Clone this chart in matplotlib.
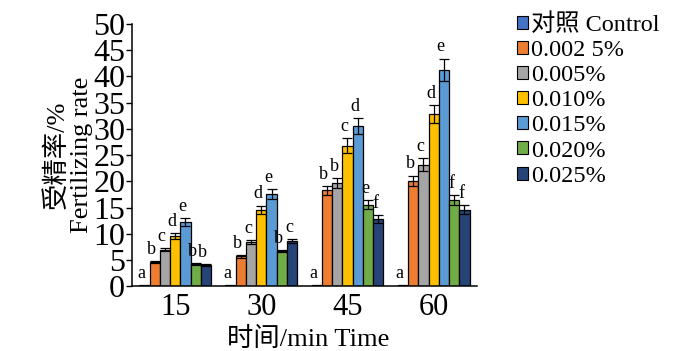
#!/usr/bin/env python3
# -*- coding: utf-8 -*-

import numpy as np
import matplotlib
matplotlib.use('Agg')
import matplotlib.pyplot as plt

plt.rcParams['font.family'] = ['Liberation Serif', 'Noto Sans CJK SC']

times = ['15', '30', '45', '60']
series = ['对照 Control', '0.002 5%', '0.005%', '0.010%', '0.015%', '0.020%', '0.025%']
colors = ['#4472C4', '#ED7D31', '#A5A5A5', '#FFC000', '#5B9BD5', '#70AD47', '#264478']

# fertilizing rate (%) per series, over the four times
control = [0.3, 0.3, 0.3, 0.3]
c0025 = [4.7, 5.7, 18.3, 20.1]
c005 = [7.0, 8.5, 19.7, 23.2]
c010 = [9.6, 14.6, 26.8, 32.9]
c015 = [12.3, 17.6, 30.6, 41.3]
c020 = [4.2, 6.7, 15.6, 16.5]
c025 = [4.0, 8.6, 12.8, 14.6]

err_control = [0.0, 0.0, 0.0, 0.0]
err_c0025 = [0.2, 0.2, 0.8, 1.0]
err_c005 = [0.3, 0.4, 1.0, 1.2]
err_c010 = [0.5, 0.8, 1.4, 1.7]
err_c015 = [0.7, 1.0, 1.5, 2.1]
err_c020 = [0.2, 0.2, 0.8, 0.9]
err_c025 = [0.2, 0.4, 0.8, 0.9]

letters_15 = ['a', 'b', 'c', 'd', 'e', 'b', 'b']
letters_30 = ['a', 'b', 'c', 'd', 'e', 'b', 'c']
letters_45 = ['a', 'b', 'b', 'c', 'd', 'e', 'f']
letters_60 = ['a', 'b', 'c', 'd', 'e', 'f', 'f']

values = [control, c0025, c005, c010, c015, c020, c025]
errors = [err_control, err_c0025, err_c005, err_c010, err_c015, err_c020, err_c025]
letters = [letters_15, letters_30, letters_45, letters_60]

fig = plt.figure(figsize=(6.81, 3.51), dpi=100)
ax = fig.add_axes([0.194, 0.184, 0.506, 0.748])

x = np.arange(len(times))
n = len(series)
w = 0.119
handles = []
for i in range(n):
    pos = x + (i - (n - 1) / 2) * w
    color = 'black' if i == 0 else colors[i]
    ax.bar(pos, values[i], w, color=color, edgecolor='black', linewidth=0.9,
           label=series[i])
    if i > 0:
        ax.errorbar(pos, values[i], yerr=errors[i], fmt='none', ecolor='black',
                    elinewidth=0.9, capsize=3.5, capthick=0.9)
    for g in range(len(times)):
        ax.text(pos[g] - w * 0.3, values[i][g] + errors[i][g] + 0.6,
                letters[g][i], ha='center', va='bottom', fontsize=13)
    handles.append(plt.Rectangle((0, 0), 1, 1, facecolor=colors[i],
                                 edgecolor='black', linewidth=0.8))

ax.set_xlim(-0.5, 3.5)
ax.set_ylim(0, 50)
ax.set_yticks(np.arange(0, 51, 5))
ax.set_xticks(x)
ax.set_xticklabels(times)
ax.tick_params(axis='y', labelsize=23, length=4, width=1, pad=1)
ax.tick_params(axis='x', labelsize=22, length=0, pad=5)
ax.spines['top'].set_visible(False)
ax.spines['right'].set_visible(False)
for s in ['left', 'bottom']:
    ax.spines[s].set_linewidth(1.1)
ax.set_ylabel('受精率/%\nFertilizing rate', fontsize=19, labelpad=0,
              linespacing=1.15)
ax.set_xlabel('时间/min Time', fontsize=19)
ax.xaxis.set_label_coords(0.51, -0.155)

fig.legend(handles, series, loc='upper left', bbox_to_anchor=(0.745, 0.99),
           frameon=False, fontsize=17.5, handlelength=0.45, handleheight=0.45,
           handletextpad=0.12, labelspacing=0.17, borderaxespad=0)

fig.savefig('out.png', dpi=100)
